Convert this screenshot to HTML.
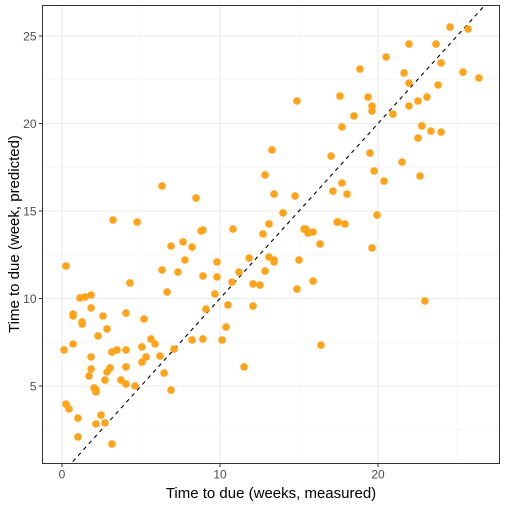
<!DOCTYPE html>
<html><head><meta charset="utf-8"><style>
html,body{margin:0;padding:0;background:#fff;}
svg{display:block;font-family:"Liberation Sans",sans-serif;}
</style></head><body>
<svg id="chart" width="506" height="506">
<rect x="0" y="0" width="506" height="506" fill="#fff"/>
<g id="grid"></g>
<g id="ref"></g>
<g id="pts"></g>
<rect x="42.5" y="5.5" width="457" height="458" fill="none" stroke="#333" stroke-width="1"/>
<g id="axes"></g>
<text x="271" y="498" text-anchor="middle" font-size="15" fill="#000">Time to due (weeks, measured)</text>
<text transform="translate(19,234) rotate(-90)" text-anchor="middle" font-size="15" fill="#000">Time to due (week, predicted)</text>
</svg>
<script>
const measured=[0.25,4.3,6.33,7.34,7.78,9.81,8.92,9.81,11.2,10.76,6.65,9.68,1.14,1.46,1.84,1.84,0.7,0.7,2.59,4.05,5.19,1.27,1.27,2.85,2.28,9.11,10.5,10.38,8.23,8.92,10.13,5.63,5.89,0.13,0.7,3.16,3.48,4.05,5.06,7.09,1.84,6.2,5.32,5.06,1.84,3.04,2.85,4.05,1.71,6.46,2.72,3.73,4.05,4.62,2.03,2.15,2.15,6.9,0.25,0.44,1.01,2.47,2.15,2.72,1.01,3.16,6.33,8.48,4.75,3.23,12.85,13.42,14.75,17.03,13.29,17.15,13.99,13.1,12.72,10.82,8.8,8.92,6.9,7.66,8.23,15.32,15.44,15.57,15.89,17.41,16.33,11.84,13.1,13.42,13.42,15.0,12.85,12.09,12.53,14.87,15.89,12.09,16.39,11.52,24.56,25.7,21.96,23.67,20.51,18.86,21.65,23.99,25.38,26.39,21.96,23.8,14.87,17.59,19.37,19.62,19.62,22.53,23.1,21.96,20.95,18.48,17.72,22.78,23.35,23.99,22.53,19.49,21.52,19.75,22.66,20.38,17.72,18.04,19.94,17.47,17.91,19.62,22.97];
const predicted=[11.86,10.89,11.63,11.51,12.2,12.09,11.29,11.23,11.51,10.94,10.37,10.26,10.03,10.09,10.2,9.46,9.11,9.0,9.0,9.17,8.83,8.66,8.54,8.26,7.86,9.4,9.63,8.37,7.63,7.69,7.63,7.69,7.4,7.06,7.4,6.94,7.06,7.06,7.23,7.11,6.66,6.71,6.66,6.37,5.97,6.03,5.8,6.09,5.57,5.74,5.34,5.34,5.11,5.0,4.89,4.77,4.66,4.77,3.97,3.69,3.17,3.34,2.83,2.89,2.09,1.69,16.43,15.74,14.37,14.49,17.06,15.97,15.86,18.14,18.49,16.14,14.89,14.26,13.69,13.97,13.86,13.91,13.0,13.23,12.94,13.97,13.97,13.74,13.8,14.37,13.11,12.31,12.37,12.2,12.09,12.2,11.57,10.83,10.77,10.54,11.0,9.57,7.34,6.09,25.51,25.4,24.54,24.54,23.8,23.11,22.89,23.46,22.94,22.6,22.31,22.2,21.29,21.57,21.51,21.0,20.71,21.29,21.51,21.0,20.54,20.43,19.8,19.86,19.57,19.51,19.17,18.31,17.8,17.29,17.0,16.71,16.6,15.97,14.77,14.37,14.26,12.89,9.86];
const xTicks=[0,10,20];
const yTicks=[5,10,15,20,25];
const xMinor=[-5,5,15,25];
const yMinor=[2.5,7.5,12.5,17.5,22.5];
const refLine=[0,30];

const L=42.5,R=499.5,T=5.5,B=463.5;
const X=v=>62+v*15.8;
const Y=v=>473.5-v*17.5;
const NS="http://www.w3.org/2000/svg";
function mk(tag,attrs,parent){const e=document.createElementNS(NS,tag);for(const k in attrs)e.setAttribute(k,attrs[k]);parent.appendChild(e);return e;}
const grid=document.getElementById('grid');
xMinor.forEach(v=>{const x=X(v);if(x>L&&x<R){const e=mk('line',{x1:x,x2:x,y1:T,y2:B,stroke:'#f2f2f2','stroke-width':0.6},grid);

}});
yMinor.forEach(v=>{const y=Y(v);if(y>T&&y<B){const e=mk('line',{x1:L,x2:R,y1:y,y2:y,stroke:'#f2f2f2','stroke-width':0.6},grid);

}});
const axes=document.getElementById('axes');
xTicks.forEach(v=>{const x=X(v);
const g=mk('line',{x1:x,x2:x,y1:T,y2:B,stroke:'#ebebeb','stroke-width':1.1},grid);


const t=mk('line',{x1:x,x2:x,y1:B,y2:B+3.5,stroke:'#333'},axes);


const l=mk('text',{x:x,y:B+15,'text-anchor':'middle','font-size':12,fill:'#4d4d4d'},axes);l.textContent=v;

});
yTicks.forEach(v=>{const y=Y(v);
const g=mk('line',{x1:L,x2:R,y1:y,y2:y,stroke:'#ebebeb','stroke-width':1.1},grid);


const t=mk('line',{x1:L-3.5,x2:L,y1:y,y2:y,stroke:'#333'},axes);


const l=mk('text',{x:L-6,y:y+4.5,'text-anchor':'end','font-size':12,fill:'#4d4d4d'},axes);l.textContent=v;

});
const ref=document.getElementById('ref');
mk('clipPath',{id:'clip'},ref);
mk('rect',{x:L,y:T,width:R-L,height:B-T},ref.querySelector('clipPath'));
const dl=mk('line',{x1:X(refLine[0]),y1:Y(refLine[0]),x2:X(refLine[1]),y2:Y(refLine[1]),stroke:'#000','stroke-width':1.1,'stroke-dasharray':'4,4','clip-path':'url(#clip)'},ref);


const pts=document.getElementById('pts');
measured.forEach((m,i)=>{const c=mk('circle',{cx:X(m),cy:Y(predicted[i]),r:3.8,fill:'#ffa31a'},pts);

});
</script>
</body></html>
